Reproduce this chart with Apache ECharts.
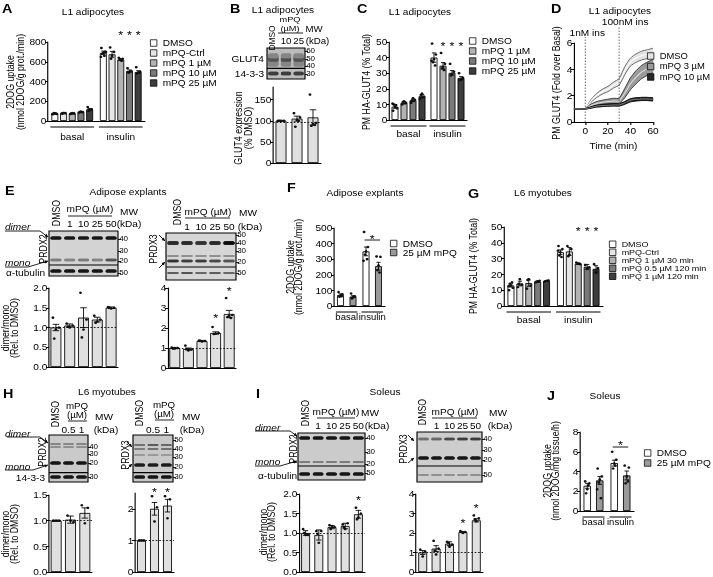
<!DOCTYPE html>
<html><head><meta charset="utf-8">
<script src="https://cdn.jsdelivr.net/npm/echarts@6/dist/echarts.min.js"></script>
<style>
html,body{margin:0;padding:0;background:#fff;overflow:hidden;}
#wrap{width:713px;height:577px;overflow:hidden;}
#c{width:620px;height:577px;transform:scaleX(1.15);transform-origin:0 0;}
</style></head><body><div id="wrap"><div id="c"></div></div>
<script>
// ================= DATA =================
const groupCats = ['basal', 'insulin'];
// A
const aNames = ['DMSO', 'mPQ-Ctrl', 'mPQ 1 µM', 'mPQ 10 µM', 'mPQ 25 µM'];
const aMeans = [[75, 690], [78, 675], [76, 622], [90, 505], [118, 495]];
const aErr = [[4, 18], [4, 30], [4, 10], [5, 12], [9, 14]];
const aDots = [
  [[68, 72, 78, 80, 75, 70], [740, 700, 690, 680, 660, 650, 700]],
  [[75, 80, 82, 76], [745, 700, 660, 630]],
  [[72, 78, 80, 74], [640, 630, 615, 620, 610]],
  [[85, 90, 95, 92], [535, 505, 495, 490]],
  [[142, 120, 110, 105], [545, 500, 490, 480, 490]]
];
const aStars = [[1, 2, 900], [1, 3, 900], [1, 4, 900]];
// B
const bLanes = ['DMSO', '10', '25'];
const bMeans = [[100, 105, 108]];
const bErr = [[1, 6, 18]];
const bDots = [[[100, 100, 100, 100], [118, 108, 102, 86, 100], [162, 95, 92, 88, 90]]];
const bTicks = [0, 50, 100, 150];
const bRef = 96;
const bBands = [[61, 13, [0.35, 0.35, 0.35]], [64.5, 5, [0.6, 0.62, 0.6]], [72, 3, [0.35, 0.35, 0.35]], [17.7, 3.5, [0.7, 0.7, 0.7]]];
const bMwPos = [90, 64.5, 42, 16], bMwLab = ['60', '50', '40', '30'];
// C
const cNames = ['DMSO', 'mPQ 1 µM', 'mPQ 10 µM', 'mPQ 25 µM'];
const cMeans = [[8.5, 40], [11, 34.8], [12.6, 30.2], [15.2, 26.8]];
const cErr = [[1, 3], [0.8, 2], [0.8, 1.5], [1.1, 1]];
const cDots = [
  [[6, 7.5, 8.5, 10, 9.5, 10.5], [49, 42, 39, 37, 35, 38]],
  [[10, 11, 12, 11.5], [43, 36, 34, 33, 32]],
  [[11, 13, 14, 12.5], [36, 31, 29.5, 28.5]],
  [[13.5, 15, 17, 16], [30, 27, 26, 25.5]]
];
const cStars = [[1, 1, 49.4], [1, 2, 49.4], [1, 3, 49.4]];
// D
const dTime = [-10, -5, 0, 5, 10, 15, 20, 25, 30, 35, 40, 45, 50, 55, 60];
const dDMSO = [1, 1, 1, 1.6, 2.0, 2.3, 2.5, 2.8, 3.05, 3.9, 4.55, 4.85, 5.05, 5.15, 5.25];
const dDMSOsem = [0.02, 0.02, 0.03, 0.1, 0.15, 0.18, 0.2, 0.22, 0.25, 0.3, 0.3, 0.32, 0.33, 0.34, 0.35];
const dPQ3 = [1, 1, 1, 1.25, 1.4, 1.5, 1.55, 1.6, 1.6, 2.2, 2.9, 3.4, 3.8, 4.05, 4.25];
const dPQ3sem = [0.02, 0.02, 0.03, 0.1, 0.15, 0.15, 0.18, 0.2, 0.2, 0.35, 0.45, 0.5, 0.5, 0.5, 0.5];
const dPQ10 = [1, 1, 1, 1.1, 1.2, 1.25, 1.28, 1.3, 1.3, 1.45, 1.65, 1.72, 1.75, 1.75, 1.72];
const dPQ10sem = [0.02, 0.02, 0.02, 0.05, 0.07, 0.08, 0.08, 0.09, 0.09, 0.1, 0.12, 0.12, 0.12, 0.12, 0.12];
const dTicks = [0, 20, 40, 60];
const insT = [0, 30], insLab = ['1nM ins', '100nM ins'];
// E
const eLanes = ['DMSO', '1', '10', '25', '50'];
const e2Bands = [[84.4, 3, [0.9, 0.88, 0.88, 0.88, 0.9]], [35.6, 2.5, [0.4, 0.35, 0.4, 0.35, 0.6]], [11, 3, [0.9, 0.9, 0.9, 0.9, 0.9]]];
const e2MwPos = [82, 55.6, 33, 6.7], e2MwLab = ['40', '30', '20', '50'];
const e3Bands = [[78.7, 3.5, [0.8, 0.8, 0.75, 0.8, 0.95]], [51, 2, [0.3, 0.3, 0.3, 0.3, 0.3]], [40.4, 2.5, [0.75, 0.7, 0.7, 0.65, 0.6]], [14.9, 2, [0.55, 0.6, 0.5, 0.55, 0.5]]];
const e3MwPos = [96, 78.5, 62, 38.3, 14.9], e3MwLab = ['50', '40', '30', '20', '50'];
const e2Means = [[1.0, 1.05, 1.25, 1.2, 1.5]];
const e2Err = [[0.08, 0.04, 0.25, 0.06, 0.02]];
const e2Dots = [[[1.25, 1.0, 0.95, 0.72], [1.1, 1.05, 1.0, 1.02], [1.88, 1.2, 0.95, 0.75], [1.3, 1.2, 1.15, 1.12], [1.52, 1.5, 1.48, 1.5]]];
const e3Means = [[1.0, 0.95, 1.35, 1.75, 2.7]];
const e3Err = [[0.03, 0.05, 0.03, 0.06, 0.18]];
const e3Dots = [[[1.02, 1.0, 0.98, 0.97], [1.12, 0.92, 0.88, 0.95], [1.37, 1.35, 1.33, 1.36], [2.05, 1.75, 1.72, 1.7], [3.5, 2.65, 2.6, 2.55, 2.5]]];
const e3Stars = [[3, 0, 2.65], [4, 0, 4.0]];
// F
const fNames = ['DMSO', '25 µM mPQ'];
const fMeans = [[70, 350], [60, 255]];
const fErr = [[8, 28], [6, 25]];
const fDots = [[[90, 75, 68, 60, 62], [475, 378, 350, 330, 300, 290]], [[80, 62, 55, 48, 60], [318, 315, 260, 230, 215]]];
const fBracket = [[1, 0, 1, 423, 450]];
// G
const gNames = ['DMSO', 'mPQ-Ctrl', 'mPQ 1 µM 30 min', 'mPQ 0.5 µM 120 min', 'mPQ 1 µM 120 min'];
const gMeans = [[13, 34], [14.2, 34.5], [14.5, 26.8], [15.5, 24.8], [15.8, 23.5]];
const gErr = [[1, 1.5], [1.5, 2.5], [2, 0.5], [0.5, 1.5], [0.3, 2]];
const gDots = [
  [[10, 11.5, 13, 14, 15, 12.5], [38, 36, 34, 32, 31, 35]],
  [[12, 13.5, 17, 14], [38, 36, 32.5, 31.5]],
  [[11, 13, 17, 16.5], [27.5, 26.5, 26.8]],
  [[15, 16, 15.5], [26, 24.5, 23.5]],
  [[15.5, 16.2, 16], [26.5, 24, 21]]
];
const gStars = [[1, 2, 49.4], [1, 3, 49.4], [1, 4, 49.4]];
// H
const hLanes = ['DMSO', '0.5', '1'];
const h2Bands = [[80.9, 2, [0.35, 0.33, 0.35]], [74.5, 2, [0.3, 0.3, 0.3]], [40.4, 3, [0.9, 0.9, 0.9]], [10.6, 3, [0.9, 0.9, 0.9]]];
const h2MwPos = [74.5, 59.6, 40.4, 10.6], h2MwLab = ['40', '30', '20', '30'];
const h3Bands = [[78.7, 2, [0.45, 0.55, 0.5]], [70.2, 2, [0.4, 0.45, 0.45]], [57.4, 2, [0.25, 0.25, 0.25]], [36.2, 3, [0.85, 0.85, 0.85]], [10.6, 3, [0.9, 0.9, 0.9]]];
const h3MwPos = [89.4, 70.2, 53.2, 31.9, 10.6], h3MwLab = ['50', '40', '30', '20', '30'];
const h2Means = [[1.0, 1.02, 1.15]];
const h2Err = [[0.01, 0.07, 0.1]];
const h2Dots = [[[1, 1, 1], [1.1, 0.97, 1.0], [1.3, 1.25, 0.95]]];
const h3Means = [[1.0, 2.0, 2.1]];
const h3Err = [[0.01, 0.2, 0.2]];
const h3Dots = [[[1, 1, 1], [2.4, 2.05, 1.6], [2.4, 2.3, 1.7]]];
const h3Ticks = [0, 1, 2];
const h3Stars = [[1, 0, 2.62], [2, 0, 2.62]];
// I
const iLanes = ['DMSO', '1', '10', '25', '50'];
const i2Bands = [[89.4, 3, [0.9, 0.9, 0.9, 0.9, 0.9]], [38.3, 2, [0.4, 0.38, 0.4, 0.4, 0.42]], [12.8, 3, [0.9, 0.9, 0.9, 0.9, 0.9]]];
const i2MwPos = [89.4, 59.6, 34, 14.9], i2MwLab = ['40', '30', '20', '50'];
const i3Bands = [[86, 2.5, [0.45, 0.5, 0.65, 0.7, 0.7]], [48, 3, [0.9, 0.9, 0.9, 0.9, 0.9]], [14, 2, [0.3, 0.3, 0.3, 0.3, 0.3]]];
const i3MwPos = [86, 64, 44, 14], i3MwLab = ['40', '30', '20', '50'];
const i2Means = [[1.0, 0.95, 1.15, 1.18, 1.48]];
const i2Err = [[0.06, 0.13, 0.04, 0.07, 0.1]];
const i2Dots = [[[1.1, 0.95, 0.95, 1.0], [1.05, 1.05, 0.75, 0.98], [1.2, 1.15, 1.18, 1.1], [1.22, 1.25, 1.1, 1.15], [1.65, 1.5, 1.4, 1.35]]];
const i2Stars = [[4, 0, 1.92]];
const i3Means = [[1.0, 1.2, 1.45, 2.05, 2.65]];
const i3Err = [[0.1, 0.15, 0.1, 0.03, 0.08]];
const i3Dots = [[[1.15, 1.05, 0.8], [1.6, 1.2, 0.9, 1.1], [1.55, 1.4, 1.3, 1.5], [2.1, 2.05, 2.0], [2.9, 2.75, 2.6, 2.7]]];
const i3Stars = [[3, 0, 2.67], [4, 0, 3.44]];
// J
const jNames = ['DMSO', '25 µM mPQ'];
const jMeans = [[2.55, 4.85], [3.1, 3.6]];
const jErr = [[0.25, 0.3], [0.4, 0.45]];
const jDots = [[[3.0, 2.8, 2.2, 1.8, 2.6], [6.0, 5.2, 4.8, 4.3, 4.6]], [[4.3, 3.5, 3.2, 2.9, 1.3, 2.2], [4.6, 4.4, 3.5, 2.8, 3.0]]];
const jBracket = [[1, 0, 1, 6.48, 7.0]];

// ================= HELPERS =================
const SX = 1.15;
const X = v => v / SX;
const FONT = '"Liberation Sans", Arial, Helvetica, sans-serif';
const FS = 8.8;
const MWFS = 7;
const JIT = [-2.2, 2.2, 0, -1.2, 1.2, -2.8, 2.8, 0.6];
const option = {animation: false, backgroundColor: '#fff', textStyle: {fontFamily: FONT},
  grid: [], xAxis: [], yAxis: [], series: [], legend: [], graphic: []};
const G = option.graphic;

function addGrid(r, extra) {
  option.grid.push(Object.assign({left: X(r[0]), top: r[1], width: X(r[2] - r[0]), height: r[3] - r[1]}, extra || {}));
  return option.grid.length - 1;
}
function starText(x, y) {
  return {type: 'text', x: x, y: y + 3, style: {text: '*', fontSize: 11, fontFamily: FONT, fill: '#000', align: 'center', verticalAlign: 'middle'}};
}
function barPanel(o) {
  const gi = addGrid(o.rect);
  const xi = option.xAxis.length, yi = option.yAxis.length;
  const n = o.names.length, bw = o.bw, gap = o.gap || 0, step = bw + gap;
  option.xAxis.push({gridIndex: gi, type: 'category', data: o.cats,
    axisLine: {show: true, lineStyle: {color: '#000', width: 1}}, axisTick: {show: false},
    axisLabel: {show: !!o.catLabels, interval: 0, margin: o.labelMargin || 8, color: '#000', fontSize: o.catFs || FS, fontFamily: FONT},
    splitLine: {show: false}});
  const yAx = {gridIndex: gi, type: 'value', min: 0, max: o.yMax, splitLine: {show: false},
    axisLine: {show: true, onZero: false, lineStyle: {color: '#000', width: 1}},
    axisTick: {show: true, length: X(3), lineStyle: {color: '#000', width: 1}},
    axisLabel: {color: '#000', fontSize: FS, fontFamily: FONT, margin: 1.5, formatter: o.fmt || (v => String(v))}};
  if (o.yInt) yAx.interval = o.yInt;
  if (o.yTicks) { yAx.axisLabel.customValues = o.yTicks; yAx.axisTick.customValues = o.yTicks; }
  option.yAxis.push(yAx);
  o.names.forEach((nm, i) => {
    const s = {type: 'bar', name: o.key + '|' + nm, xAxisIndex: xi, yAxisIndex: yi, data: o.means[i],
      barWidth: X(bw), barGap: (gap / bw * 100) + '%', silent: true, z: 2,
      itemStyle: {color: o.colors[i], borderColor: '#000', borderWidth: 0.8}};
    if (o.ref != null && i === 0) s.markLine = {silent: true, symbol: 'none', animation: false, label: {show: false},
      lineStyle: {type: [1.5, 1.5], color: '#000', width: 0.8}, data: [{yAxis: o.ref}]};
    option.series.push(s);
    const off = X((i - (n - 1) / 2) * step);
    const dots = o.dots[i];
    option.series.push({type: 'custom', xAxisIndex: xi, yAxisIndex: yi, clip: false, silent: true, z: 4,
      data: o.means[i].map((m, k) => [k, m, o.errs[i][k]]),
      renderItem: (params, api) => {
        const k = api.value(0), m = api.value(1), e = api.value(2);
        const x = api.coord([k, m])[0] + off;
        const yt = api.coord([k, m + e])[1], yb = api.coord([k, Math.max(0, m - e)])[1];
        const cw = X(bw * 0.3);
        const st = {stroke: '#000', lineWidth: 0.8};
        const ch = [
          {type: 'line', shape: {x1: x, y1: yb, x2: x, y2: yt}, style: st},
          {type: 'line', shape: {x1: x - cw, y1: yt, x2: x + cw, y2: yt}, style: st},
          {type: 'line', shape: {x1: x - cw, y1: yb, x2: x + cw, y2: yb}, style: st}
        ];
        (dots[params.dataIndex] || []).forEach((d, j) => {
          ch.push({type: 'circle', shape: {cx: x + X(JIT[j % JIT.length] * bw / 8), cy: api.coord([k, d])[1], r: 1.25}, style: {fill: '#111'}});
        });
        return {type: 'group', children: ch};
      }});
  });
  if (o.underline) {
    const half = X((n * bw + (n - 1) * gap) / 2 + 1);
    option.series.push({type: 'custom', xAxisIndex: xi, yAxisIndex: yi, clip: false, silent: true,
      data: o.cats.map((c, k) => [k, 0]),
      renderItem: (params, api) => {
        const p = api.coord([api.value(0), 0]);
        return {type: 'line', shape: {x1: p[0] - half, y1: p[1] + o.underline, x2: p[0] + half, y2: p[1] + o.underline},
          style: {stroke: '#000', lineWidth: 1}};
      }});
  }
  if (o.stars) {
    option.series.push({type: 'custom', xAxisIndex: xi, yAxisIndex: yi, clip: false, silent: true, data: o.stars,
      renderItem: (params, api) => {
        const p = api.coord([api.value(0), api.value(2)]);
        return starText(p[0] + X((api.value(1) - (n - 1) / 2) * step), p[1]);
      }});
  }
  if (o.brackets) {
    option.series.push({type: 'custom', xAxisIndex: xi, yAxisIndex: yi, clip: false, silent: true, data: o.brackets,
      renderItem: (params, api) => {
        const k = api.value(0), s0 = api.value(1), s1 = api.value(2);
        const p = api.coord([k, api.value(3)]), q = api.coord([k, api.value(4)]);
        const x0 = p[0] + X((s0 - (n - 1) / 2) * step) - X(1.5), x1 = p[0] + X((s1 - (n - 1) / 2) * step) + X(1.5);
        return {type: 'group', children: [
          {type: 'line', shape: {x1: x0, y1: p[1], x2: x1, y2: p[1]}, style: {stroke: '#000', lineWidth: 0.9}},
          starText((x0 + x1) / 2, q[1])]};
      }});
  }
}
function blot(b) {
  const gi = addGrid(b.rect, {show: true, backgroundColor: b.bg, borderColor: '#000', borderWidth: 1});
  const xi = option.xAxis.length, yi = option.yAxis.length;
  option.xAxis.push({gridIndex: gi, type: 'category', data: b.lanes, show: false});
  option.yAxis.push({gridIndex: gi, type: 'value', min: 0, max: 100, position: 'right', splitLine: {show: false},
    axisLine: {show: false},
    axisTick: {show: true, length: X(3), lineStyle: {color: '#000', width: 0.8}, customValues: b.mwPos},
    axisLabel: {show: true, margin: 1, fontSize: MWFS, fontFamily: FONT, color: '#000', customValues: b.mwPos,
      formatter: v => { const i = b.mwPos.findIndex(p => Math.abs(p - v) < 0.01); return i >= 0 ? b.mwLab[i] : ''; }}});
  const data = [];
  b.bands.forEach(r => r[2].forEach((I, k) => data.push([k, r[0], I, r[1]])));
  option.series.push({type: 'custom', xAxisIndex: xi, yAxisIndex: yi, silent: true, data: data,
    renderItem: (p, api) => {
      const c = api.coord([api.value(0), api.value(1)]);
      const w = api.size([1, 0])[0] * 0.8, h = api.value(3), I = api.value(2);
      const g = Math.round(205 * (1 - I));
      const col = 'rgb(' + g + ',' + g + ',' + g + ')';
      return {type: 'rect', shape: {x: c[0] - w / 2, y: c[1] - h / 2, width: w, height: h, r: Math.min(h / 2, 1.5)},
        style: {fill: col, shadowBlur: 1.2, shadowColor: col}};
    }});
  option.series.push({type: 'custom', xAxisIndex: xi, yAxisIndex: yi, silent: true, data: b.div.map(d => [0, d]),
    renderItem: (p, api) => {
      const y = api.coord([0, api.value(1)])[1], cs = p.coordSys;
      return {type: 'line', shape: {x1: cs.x, y1: y, x2: cs.x + cs.width, y2: y}, style: {stroke: '#000', lineWidth: 1.2}};
    }});
}
function legend(key, names, x, yc0, spacing, fs) {
  option.legend.push({orient: 'vertical', left: X(x), top: yc0 - spacing / 2, itemWidth: X(6.5), itemHeight: 6.5,
    itemGap: 0, padding: 0, icon: 'rect', selectedMode: false,
    data: names.map(n => key + '|' + n), formatter: n => n.split('|')[1],
    itemStyle: {borderColor: '#000', borderWidth: 0.7},
    textStyle: {fontSize: fs, fontFamily: FONT, color: '#000', lineHeight: spacing}});
}
function txt(x, y, text, o) {
  o = o || {};
  const st = {text: text, fill: '#000', fontSize: o.fs || FS, fontFamily: FONT,
    fontWeight: o.bold ? 'bold' : 'normal', fontStyle: o.italic ? 'italic' : 'normal',
    align: o.align || 'center', verticalAlign: o.va || 'middle'};
  if (o.lh) st.lineHeight = o.lh;
  G.push({type: 'text', x: X(x), y: y, rotation: o.rot ? Math.PI / 2 : 0, silent: true, z: 10, style: st});
}
function seg(pts) {
  G.push({type: 'polyline', silent: true, z: 10, shape: {points: pts.map(p => [X(p[0]), p[1]])}, style: {stroke: '#000', lineWidth: 0.8, fill: null}});
}
function arrow(pts) {
  seg(pts);
  const a = pts[pts.length - 2], b = pts[pts.length - 1];
  const dx = b[0] - a[0], dy = b[1] - a[1], L = Math.hypot(dx, dy), ux = dx / L, uy = dy / L;
  const hl = 3.2, hw = 1.7, bx = b[0] - ux * hl, by = b[1] - uy * hl;
  G.push({type: 'polygon', silent: true, z: 10,
    shape: {points: [[X(b[0]), b[1]], [X(bx - uy * hw), by + ux * hw], [X(bx + uy * hw), by - ux * hw]]}, style: {fill: '#000'}});
}
function laneX(r, n, k) { return r[0] + (k + 0.5) * (r[2] - r[0]) / n; }
const dec1 = v => v.toFixed(1);

// ================= PANELS =================
// A
barPanel({key: 'a', rect: [48, 42, 145, 121], cats: groupCats, catLabels: true, labelMargin: 11, underline: 6,
  names: aNames, colors: ['#ffffff', '#e6e6e6', '#b3b3b3', '#7a7a7a', '#3d3d3d'],
  means: aMeans, errs: aErr, dots: aDots, yMax: 800, yInt: 200, bw: 7, gap: 1.7, stars: aStars});
legend('a', aNames, 150, 43, 10, FS);
// B
const bRect = [267, 48, 305, 79];
blot({rect: bRect, lanes: bLanes, bg: '#bcbcbc', div: [34], bands: bBands, mwPos: bMwPos, mwLab: bMwLab});
barPanel({key: 'b', rect: [273, 87, 321, 163], cats: bLanes, names: ['GLUT4'], colors: ['#e0e0e0'],
  means: bMeans, errs: bErr, dots: bDots, yMax: 180, yTicks: bTicks, bw: 11, ref: bRef});
// C
barPanel({key: 'c', rect: [389, 42, 467, 120], cats: groupCats, catLabels: true, labelMargin: 9, underline: 6,
  names: cNames, colors: ['#ffffff', '#b3b3b3', '#7a7a7a', '#3d3d3d'],
  means: cMeans, errs: cErr, dots: cDots, yMax: 50, yInt: 10, bw: 7, gap: 2, stars: cStars});
legend('c', cNames, 469, 41, 10, FS);
// D
const gD = addGrid([574, 43, 653, 122]);
const xD = option.xAxis.length, yD = option.yAxis.length;
option.xAxis.push({gridIndex: gD, type: 'value', min: -10, max: 60, splitLine: {show: false},
  axisLine: {lineStyle: {color: '#000', width: 1}},
  axisTick: {length: 3, customValues: dTicks, lineStyle: {color: '#000'}},
  axisLabel: {customValues: dTicks, fontSize: FS, fontFamily: FONT, color: '#000', margin: 4},
  name: 'Time (min)', nameLocation: 'middle', nameGap: 19, nameTextStyle: {fontSize: FS, fontFamily: FONT, color: '#000'}});
option.yAxis.push({gridIndex: gD, type: 'value', min: 0, max: 6, interval: 2, splitLine: {show: false},
  axisLine: {show: true, onZero: false, lineStyle: {color: '#000', width: 1}},
  axisTick: {show: true, length: X(3), lineStyle: {color: '#000'}},
  axisLabel: {fontSize: FS, fontFamily: FONT, color: '#000', margin: 1.5}});
// band = mean ± SEM, drawn as a polygon through the axis scales
function dBand(name, mean, sem, fill, edge, mid) {
  option.series.push({type: 'custom', name: 'd|' + name, xAxisIndex: xD, yAxisIndex: yD, silent: true, z: 3,
    itemStyle: {color: fill}, data: dTime.map((t, i) => [t, mean[i]]),
    renderItem: (p, api) => {
      if (p.dataIndex !== 0) return null;
      const up = dTime.map((t, i) => api.coord([t, mean[i] + sem[i]]));
      const lo = dTime.map((t, i) => api.coord([t, mean[i] - sem[i]]));
      const md = dTime.map((t, i) => api.coord([t, mean[i]]));
      return {type: 'group', children: [
        {type: 'polygon', shape: {points: up.concat(lo.slice().reverse())}, style: {fill: fill, stroke: fill, lineWidth: 0.5}},
        {type: 'polyline', shape: {points: up, smooth: 0.2}, style: {stroke: edge, lineWidth: 0.8, fill: null}},
        {type: 'polyline', shape: {points: lo, smooth: 0.2}, style: {stroke: edge, lineWidth: 0.8, fill: null}},
        {type: 'polyline', shape: {points: md, smooth: 0.2}, style: {stroke: mid, lineWidth: 1, fill: null}}]};
    }});
}
dBand('DMSO', dDMSO, dDMSOsem, '#e4e4e4', '#555', '#ffffff');
dBand('mPQ 3 µM', dPQ3, dPQ3sem, '#9a9a9a', '#333', '#dcdcdc');
dBand('mPQ 10 µM', dPQ10, dPQ10sem, '#262626', '#000', '#777');
const insExt = [6, 17], insDx = [2, 6];
option.series.push({type: 'custom', xAxisIndex: xD, yAxisIndex: yD, clip: false, silent: true, z: 6,
  data: insT.map(t => [t, 0]),
  renderItem: (p, api) => {
    const i = p.dataIndex, b = api.coord([api.value(0), 0]), t = api.coord([api.value(0), 6]);
    const top = t[1] - insExt[i];
    return {type: 'group', children: [
      {type: 'line', shape: {x1: b[0], y1: b[1], x2: b[0], y2: top}, style: {stroke: '#555', lineWidth: 0.8, lineDash: [1.5, 1.5]}},
      {type: 'text', x: b[0] + X(insDx[i]), y: top - 4, style: {text: insLab[i], fontSize: FS, fontFamily: FONT, fill: '#000', align: 'center', verticalAlign: 'middle'}}]};
  }});
legend('d', ['DMSO', 'mPQ 3 µM', 'mPQ 10 µM'], 647, 56, 10.5, 8.2);
// E
const e2Rect = [49, 231, 118, 276], e3Rect = [166, 233, 236, 280];
blot({rect: e2Rect, lanes: eLanes, bg: '#d3d3d3', div: [24.4], bands: e2Bands, mwPos: e2MwPos, mwLab: e2MwLab});
blot({rect: e3Rect, lanes: eLanes, bg: '#d6d6d6', div: [27.7], bands: e3Bands, mwPos: e3MwPos, mwLab: e3MwLab});
barPanel({key: 'e2', rect: [49, 288, 118, 367], cats: eLanes, names: ['PRDX2'], colors: ['#e0e0e0'],
  means: e2Means, errs: e2Err, dots: e2Dots, yMax: 2, yInt: 0.5, fmt: dec1, bw: 11, ref: 1});
barPanel({key: 'e3', rect: [168, 288, 236, 368], cats: eLanes, names: ['PRDX3'], colors: ['#e0e0e0'],
  means: e3Means, errs: e3Err, dots: e3Dots, yMax: 4, yInt: 1, bw: 11, ref: 1, stars: e3Stars});
// F
barPanel({key: 'f', rect: [334, 228, 385, 306], cats: groupCats, catLabels: true, catFs: 8.3, labelMargin: 7, underline: 6,
  names: fNames, colors: ['#ffffff', '#9a9a9a'],
  means: fMeans, errs: fErr, dots: fDots, yMax: 500, yInt: 100, bw: 7, gap: 5.5, brackets: fBracket});
legend('f', fNames, 390, 243, 8, FS);
// G
barPanel({key: 'g', rect: [504, 227, 603, 306], cats: groupCats, catLabels: true, labelMargin: 9, underline: 6,
  names: gNames, colors: ['#ffffff', '#e6e6e6', '#b3b3b3', '#7a7a7a', '#3d3d3d'],
  means: gMeans, errs: gErr, dots: gDots, yMax: 50, yInt: 10, bw: 7, gap: 1.9, stars: gStars});
legend('g', gNames, 609, 244, 7.5, 7.8);
// H
const h2Rect = [49, 435, 88, 482], h3Rect = [133, 435, 173, 482];
blot({rect: h2Rect, lanes: hLanes, bg: '#cacaca', div: [20], bands: h2Bands, mwPos: h2MwPos, mwLab: h2MwLab});
blot({rect: h3Rect, lanes: hLanes, bg: '#c8c8c8', div: [20], bands: h3Bands, mwPos: h3MwPos, mwLab: h3MwLab});
barPanel({key: 'h2', rect: [49, 495, 92, 572], cats: hLanes, names: ['PRDX2'], colors: ['#e0e0e0'],
  means: h2Means, errs: h2Err, dots: h2Dots, yMax: 1.5, yInt: 0.5, fmt: dec1, bw: 11, ref: 1});
barPanel({key: 'h3', rect: [135, 493, 174, 572], cats: hLanes, names: ['PRDX3'], colors: ['#e0e0e0'],
  means: h3Means, errs: h3Err, dots: h3Dots, yMax: 2.5, yTicks: h3Ticks, bw: 9, ref: 1, stars: h3Stars});
// I
const i2Rect = [298, 433, 365, 480], i3Rect = [417, 432, 482, 482];
blot({rect: i2Rect, lanes: iLanes, bg: '#cbcbcb', div: [29.8], bands: i2Bands, mwPos: i2MwPos, mwLab: i2MwLab});
blot({rect: i3Rect, lanes: iLanes, bg: '#cdcdcd', div: [32], bands: i3Bands, mwPos: i3MwPos, mwLab: i3MwLab});
barPanel({key: 'i2', rect: [299, 494, 365, 572], cats: iLanes, names: ['PRDX2'], colors: ['#e0e0e0'],
  means: i2Means, errs: i2Err, dots: i2Dots, yMax: 2, yInt: 0.5, fmt: dec1, bw: 9, ref: 1, stars: i2Stars});
barPanel({key: 'i3', rect: [416, 494, 483, 572], cats: iLanes, names: ['PRDX3'], colors: ['#e0e0e0'],
  means: i3Means, errs: i3Err, dots: i3Dots, yMax: 4, yInt: 1, bw: 9, ref: 1, stars: i3Stars});
// J
barPanel({key: 'j', rect: [580, 432, 634, 511], cats: groupCats, catLabels: true, catFs: 8.3, labelMargin: 7, underline: 6,
  names: jNames, colors: ['#ffffff', '#9a9a9a'],
  means: jMeans, errs: jErr, dots: jDots, yMax: 8, yInt: 2, bw: 7.5, gap: 5, brackets: jBracket});
legend('j', jNames, 644, 453, 10, FS);

// ================= TEXT =================
[['A', 2, 2], ['B', 230, 2], ['C', 357, 2], ['D', 551, 2], ['E', 5, 184], ['F', 287, 181], ['G', 468, 187],
 ['H', 3, 387], ['I', 256, 387], ['J', 547, 389]].forEach(l => txt(l[1], l[2], l[0], {bold: true, fs: 12.5, align: 'left', va: 'top'}));
[['L1 adipocytes', 93, 12], ['L1 adipocytes', 283, 9.5], ['L1 adipocytes', 420, 12], ['L1 adipocytes', 620, 11],
 ['Adipose explants', 128, 192], ['Adipose explants', 365, 193], ['L6 myotubes', 543, 193], ['L6 myotubes', 107, 392],
 ['Soleus', 385, 392], ['Soleus', 605, 396]].forEach(t => txt(t[1], t[2], t[0]));
// y-axis titles
txt(15, 82, '2DOG uptake\n(nmol 2DOG/g prot./min)', {rot: true, lh: 8.7});
txt(243, 128, 'GLUT4 expression\n(% DMSO)', {rot: true, lh: 8.3});
txt(366, 82, 'PM HA-GLUT4 (% Total)', {rot: true});
txt(556, 83, 'PM GLUT4 (Fold over Basal)', {rot: true});
txt(9.5, 328, 'dimer/mono\n(Rel. to DMSO)', {rot: true, lh: 7.6});
txt(294, 267, '2DOG uptake\n(nmol 2DOG/g prot./min)', {rot: true, lh: 7.3});
txt(473, 266, 'PM HA-GLUT4 (% Total)', {rot: true});
txt(9.5, 534, 'dimer/mono\n(Rel. to DMSO)', {rot: true, lh: 7.6});
txt(267, 532, 'dimer/mono\n(Rel. to DMSO)', {rot: true, lh: 7.3});
txt(551, 471, '2DOG uptake\n(nmol 2DOG/mg tissue/h)', {rot: true, lh: 7.3});
// B blot header
txt(271.5, 38, 'DMSO', {rot: true, fs: 8.4});
txt(290, 24, 'mPQ\n(µM)', {fs: 8, lh: 8.6}); seg([[278, 33], [303, 33]]);
txt(laneX(bRect, 3, 1), 41, '10', {fs: 8.4}); txt(laneX(bRect, 3, 2), 41, '25', {fs: 8.4});
txt(314, 29, 'MW', {fs: 8.4}); txt(317.5, 41, '(kDa)', {fs: 8.4});
txt(264, 59, 'GLUT4', {align: 'right'}); txt(264, 74, '14-3-3', {align: 'right'});
// E blots
txt(56, 213, 'DMSO', {rot: true});
txt(90, 209, 'mPQ (µM)'); seg([[68, 216], [112, 216]]);
['1', '10', '25', '50'].forEach((s, k) => txt(laneX(e2Rect, 5, k + 1), 224, s));
txt(129, 212, 'MW'); txt(129, 224, '(kDa)');
txt(5, 227, 'dimer', {align: 'left', italic: true}); txt(5, 263, 'mono', {align: 'left', italic: true});
txt(45, 273, 'α-tubulin', {align: 'right'});
txt(43, 249, 'PRDX2', {rot: true});
arrow([[5, 231], [40, 231], [48, 237]]); arrow([[5, 267], [28, 267], [48, 261]]);
txt(177, 212, 'DMSO', {rot: true});
txt(208, 212, 'mPQ (µM)'); seg([[185, 218], [230, 218]]);
['1', '10', '25', '50'].forEach((s, k) => txt(laneX(e3Rect, 5, k + 1), 227, s));
txt(248, 213, 'MW'); txt(250, 227, '(kDa)');
txt(153, 249, 'PRDX3', {rot: true});
arrow([[159, 235], [165, 241]]); arrow([[159, 268], [165, 262]]);
// H blots
txt(55, 414, 'DMSO', {rot: true});
txt(77, 410.5, 'mPQ\n(µM)', {fs: 8.5, lh: 9.2}); seg([[68, 421], [87, 421]]);
txt(laneX(h2Rect, 3, 1), 430, '0.5'); txt(laneX(h2Rect, 3, 2), 430, '1');
txt(104, 417, 'MW'); txt(106, 430, '(kDa)');
txt(5, 434, 'dimer', {align: 'left', italic: true}); txt(5, 467, 'mono', {align: 'left', italic: true});
txt(45, 478, '14-3-3', {align: 'right'});
txt(42, 452, 'PRDX2', {rot: true});
arrow([[7, 437], [40, 437], [48, 443]]); arrow([[5, 470], [33, 470], [48, 465]]);
txt(139, 413, 'DMSO', {rot: true});
txt(164, 409.5, 'mPQ\n(µM)', {fs: 8.5, lh: 9.2}); seg([[155, 420], [174, 420]]);
txt(laneX(h3Rect, 3, 1), 430, '0.5'); txt(laneX(h3Rect, 3, 2), 430, '1');
txt(191, 417, 'MW'); txt(192, 430, '(kDa)');
txt(125, 455, 'PRDX3', {rot: true});
arrow([[127, 442], [132, 447]]); arrow([[127, 469], [132, 464]]);
// I blots
txt(305, 413, 'DMSO', {rot: true});
txt(336, 412, 'mPQ (µM)'); seg([[317, 418], [355, 418]]);
['1', '10', '25', '50'].forEach((s, k) => txt(laneX(i2Rect, 5, k + 1), 426, s));
txt(370, 413, 'MW'); txt(377, 426, '(kDa)');
txt(255, 428, 'dimer', {align: 'left', italic: true}); txt(255, 462, 'mono', {align: 'left', italic: true});
txt(297, 476, 'α-tubulin', {align: 'right'});
txt(293, 449, 'PRDX2', {rot: true});
arrow([[255, 431], [290, 431], [297, 436]]); arrow([[255, 466], [280, 466], [297, 461]]);
txt(422, 412, 'DMSO', {rot: true});
txt(455, 412, 'mPQ (µM)'); seg([[432, 418], [477, 418]]);
['1', '10', '25', '50'].forEach((s, k) => txt(laneX(i3Rect, 5, k + 1), 426, s));
txt(498, 413, 'MW'); txt(500, 426, '(kDa)');
txt(403, 449, 'PRDX3', {rot: true});
arrow([[408, 435], [414, 441]]); arrow([[408, 463], [414, 458]]);

const chart = echarts.init(document.getElementById('c'), null, {renderer: 'svg', width: 620, height: 577});
chart.setOption(option);
</script></body></html>
